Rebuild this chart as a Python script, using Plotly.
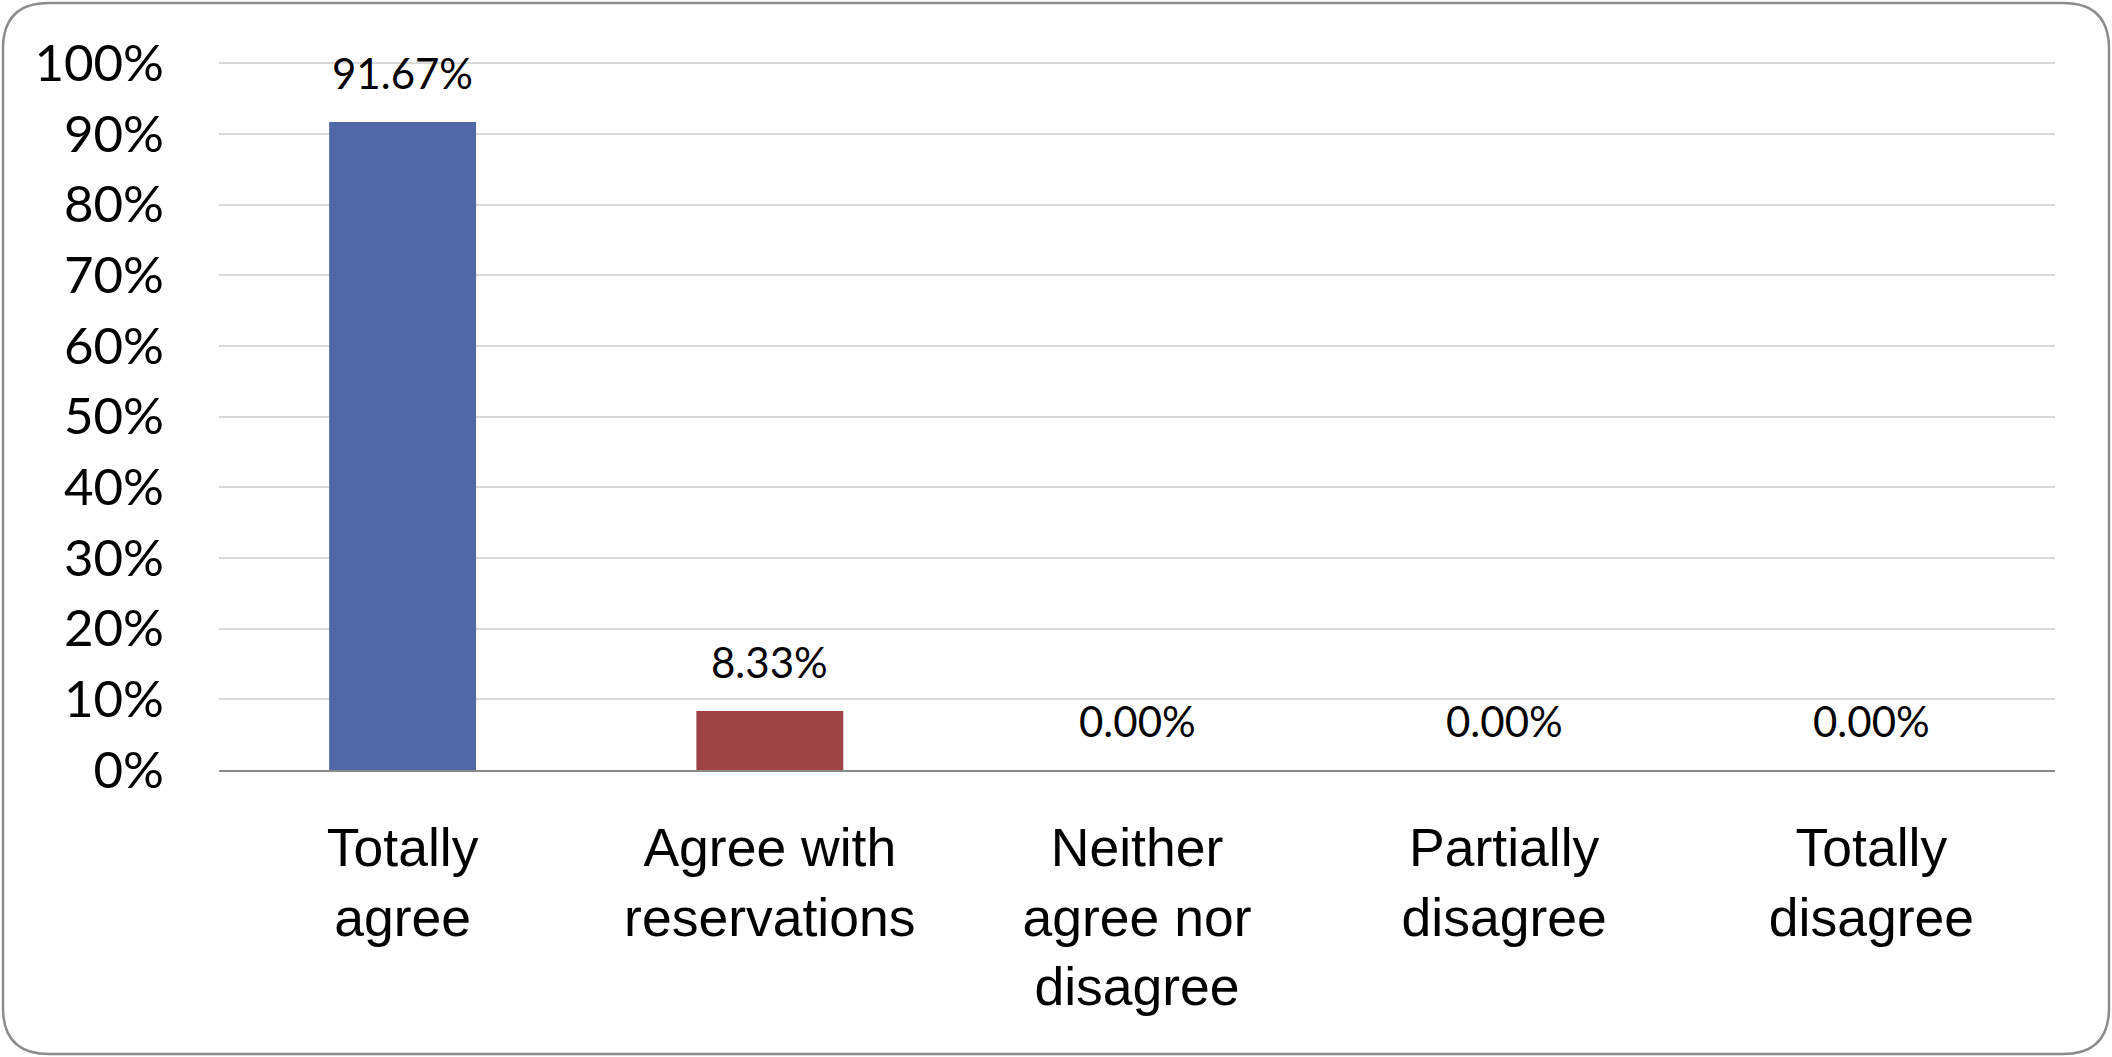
import plotly.graph_objects as go

categories = ["Totally<br>agree", "Agree with<br>reservations", "Neither<br>agree nor<br>disagree",
              "Partially<br>disagree", "Totally<br>disagree"]
values = [91.67, 8.33, 0.00, 0.00, 0.00]
bar_colors = ["#5068A8", "#9E4444", "#9BBB59", "#8064A2", "#4BACC6"]
y_ticks = [0, 10, 20, 30, 40, 50, 60, 70, 80, 90, 100]
y_tick_labels = ["0%", "10%", "20%", "30%", "40%", "50%", "60%", "70%", "80%", "90%", "100%"]

W, H = 2112, 1057
ml, mr, mt, mb = 219, 57, 61, 287

fig = go.Figure()
fig.add_trace(go.Bar(x=categories, y=values, marker_color=bar_colors,
                     marker_line_width=0, width=0.4, showlegend=False, cliponaxis=False))

for c, v in zip(categories, values):
    fig.add_annotation(x=c, y=v, text=f"{v:.2f}%", showarrow=False,
                       yanchor="bottom", yshift=22,
                       font=dict(family="Lato", size=42, color="black"))

# rounded border in paper coords
pw, ph = W - ml - mr, H - mt - mb
def px(x):
    return (x - ml) / pw
def py(y):
    return (H - mb - y) / ph
x0, x1, y0, y1, r = 3, W - 3, 3, H - 3, 46
path = (f"M {px(x0 + r)},{py(y0)} L {px(x1 - r)},{py(y0)} "
        f"Q {px(x1)},{py(y0)} {px(x1)},{py(y0 + r)} "
        f"L {px(x1)},{py(y1 - r)} Q {px(x1)},{py(y1)} {px(x1 - r)},{py(y1)} "
        f"L {px(x0 + r)},{py(y1)} Q {px(x0)},{py(y1)} {px(x0)},{py(y1 - r)} "
        f"L {px(x0)},{py(y0 + r)} Q {px(x0)},{py(y0)} {px(x0 + r)},{py(y0)} Z")
fig.add_shape(type="path", path=path, xref="paper", yref="paper",
              line=dict(color="#8C8C8C", width=2.5), layer="below")

fig.update_layout(
    width=W, height=H,
    margin=dict(l=ml, r=mr, t=mt, b=mb, autoexpand=False),
    paper_bgcolor="white", plot_bgcolor="white",
    xaxis=dict(showline=True, linecolor="#8A8A8A", linewidth=2, automargin=False,
               tickfont=dict(family="Liberation Sans", size=53.5, color="black"),
               ticks="", ticklabelstandoff=30, showgrid=False),
    yaxis=dict(range=[0, 100.3], tickvals=y_ticks, ticktext=y_tick_labels,
               automargin=False,
               showgrid=True, gridcolor="#D9D9D9", gridwidth=2,
               zeroline=False, showline=False, ticks="",
               ticklabelstandoff=54,
               tickfont=dict(family="Lato", size=51, color="black")),
)

fig.write_html("out.html", config={"displayModeBar": False},
               post_script="document.body.style.margin='0px';document.body.style.overflow='hidden';")
